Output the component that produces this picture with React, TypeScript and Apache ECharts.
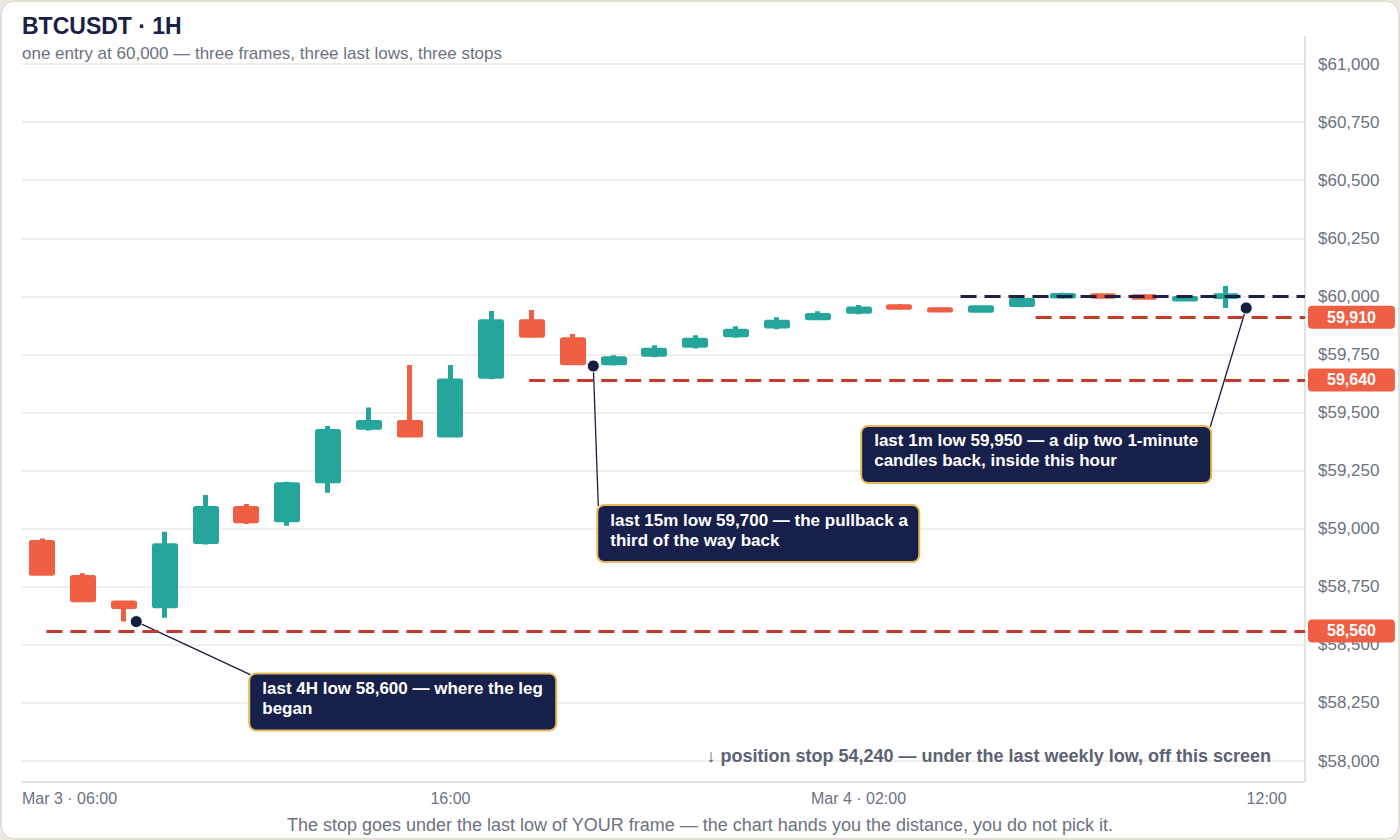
import React, { useEffect, useRef } from 'react';
import * as echarts from 'echarts';

// hourly candles, Mar 3 06:00 -> Mar 4 12:00 (last slot is the forming hour)
const hours = [
  'Mar 3 06:00', 'Mar 3 07:00', 'Mar 3 08:00', 'Mar 3 09:00', 'Mar 3 10:00', 'Mar 3 11:00',
  'Mar 3 12:00', 'Mar 3 13:00', 'Mar 3 14:00', 'Mar 3 15:00', 'Mar 3 16:00', 'Mar 3 17:00',
  'Mar 3 18:00', 'Mar 3 19:00', 'Mar 3 20:00', 'Mar 3 21:00', 'Mar 3 22:00', 'Mar 3 23:00',
  'Mar 4 00:00', 'Mar 4 01:00', 'Mar 4 02:00', 'Mar 4 03:00', 'Mar 4 04:00', 'Mar 4 05:00',
  'Mar 4 06:00', 'Mar 4 07:00', 'Mar 4 08:00', 'Mar 4 09:00', 'Mar 4 10:00', 'Mar 4 11:00',
  'Mar 4 12:00',
];

// [open, close, low, high]
const candles = [
  [58940, 58808, 58800, 58958],
  [58790, 58694, 58683, 58808],
  [58680, 58665, 58600, 58690],
  [58668, 58926, 58617, 58987],
  [58945, 59087, 58932, 59145],
  [59087, 59034, 59020, 59106],
  [59038, 59189, 59013, 59202],
  [59206, 59418, 59155, 59442],
  [59436, 59457, 59422, 59521],
  [59457, 59403, 59392, 59704],
  [59403, 59636, 59392, 59704],
  [59656, 59891, 59643, 59937],
  [59891, 59833, 59822, 59941],
  [59813, 59714, 59703, 59838],
  [59714, 59731, 59702, 59746],
  [59751, 59768, 59738, 59789],
  [59789, 59811, 59776, 59832],
  [59835, 59850, 59822, 59871],
  [59872, 59888, 59858, 59910],
  [59908, 59918, 59897, 59936],
  [59936, 59946, 59923, 59963],
  [59955, 59953, 59945, 59967],
  [59942, 59941, 59932, 59953],
  [59940, 59951, 59930, 59961],
  [59965, 59982, 59953, 59995],
  [60001, 60004, 59990, 60015],
  [60002, 60000, 59995, 60008],
  [59998, 59996, 59990, 60005],
  [59989, 59991, 59982, 59998],
  [59999, 60003, 59950, 60045],
];

const xTickValues = [-0.5, 10, 20, 30];
const xTickLabels = ['Mar 3 · 06:00', '16:00', 'Mar 4 · 02:00', '12:00'];

const priceMin = 58000;
const priceMax = 61000;
const priceStep = 250;

const entryPrice = 60000;
const entryFrom = 22.5;

const stopPrices = [58560, 59640, 59910];
const stopFrom = [0.1, 11.93, 24.34];

const lowX = [2.3, 13.5, 29.5];
const lowPrices = [58600, 59700, 59950];
const lowNotes = [
  'last 4H low 58,600 — where the leg\nbegan',
  'last 15m low 59,700 — the pullback a\nthird of the way back',
  'last 1m low 59,950 — a dip two 1-minute\ncandles back, inside this hour',
];

const offscreenNote = '↓ position stop 54,240 — under the last weekly low, off this screen';
const caption = 'The stop goes under the last low of YOUR frame — the chart hands you the distance, you do not pick it.';

// layout
const W = 1400;
const H = 840;
const PLOT_LEFT = 22;
const AXIS_X = 1305;
const CANDLE_RIGHT = 1287;
const PLOT_TOP = 64;
const PLOT_BOTTOM = 761;
const FRAME_TOP = 36;
const FRAME_BOTTOM = 782;
const notePad = [4, 12, 11, 12];
const noteWidth = [281, 296, 324];
const noteDx = [114, 5, -384];
const noteDy = [53, 140, 119];
const noteHookRight = [false, false, true];

const FONT = '"Liberation Sans", Arial, Helvetica, sans-serif';
const UP = '#26a69a';
const DOWN = '#ef5f43';
const STOP = '#c23b2b';
const NAVY = '#161d40';
const BOX = '#17204a';
const GOLD = '#e6b95a';
const MUTED = '#6b7280';
const GRIDLINE = '#ece9e2';
const AXIS = '#dedad2';

const fmtPrice = (v: number) => '$' + v.toLocaleString('en-US');

export default function App() {
  const ref = useRef<HTMLDivElement | null>(null);

  useEffect(() => {
    document.body.style.margin = '0';
    document.body.style.background = '#ece9e2';
    if (!ref.current) return;
    const chart = echarts.init(ref.current, null, { renderer: 'svg' });

    // value axis of the wide grid, scaled so that index i sits on candle slot i
    const xEnd = -0.5 + hours.length * (AXIS_X - PLOT_LEFT) / (CANDLE_RIGHT - PLOT_LEFT);
    const lineEnd = xEnd - 0.0001;

    const stopLines = stopPrices.map((p, i) => [
      {
        coord: [stopFrom[i], p],
        lineStyle: { color: STOP, width: 3, type: [16, 8] },
        label: {
          show: true,
          position: 'end',
          distance: 3,
          formatter: p.toLocaleString('en-US'),
          backgroundColor: DOWN,
          color: '#fff',
          fontFamily: FONT,
          fontWeight: 'bold',
          fontSize: 16,
          padding: [4, 19, 3, 19],
          borderRadius: 4,
        },
      },
      { coord: [lineEnd, p] },
    ]);

    const option: any = {
      animation: false,
      textStyle: { fontFamily: FONT },
      title: [
        {
          text: 'BTCUSDT · 1H',
          subtext: 'one entry at 60,000 — three frames, three last lows, three stops',
          left: PLOT_LEFT,
          top: 14,
          padding: 0,
          itemGap: 8,
          textStyle: { fontFamily: FONT, fontSize: 23, fontWeight: 'bold', color: '#1b2046', lineHeight: 23 },
          subtextStyle: { fontFamily: FONT, fontSize: 17, color: MUTED, lineHeight: 17 },
        },
        {
          text: offscreenNote,
          right: 129,
          top: 747,
          padding: 0,
          textStyle: { fontFamily: FONT, fontSize: 18, fontWeight: 'bold', color: '#5b6275' },
        },
        {
          text: caption,
          left: 'center',
          top: 816,
          padding: 0,
          textStyle: { fontFamily: FONT, fontSize: 18, fontWeight: 'normal', color: MUTED },
        },
      ],
      grid: [
        { left: PLOT_LEFT, right: W - AXIS_X, top: PLOT_TOP, bottom: H - PLOT_BOTTOM },
        { left: PLOT_LEFT, right: W - CANDLE_RIGHT, top: PLOT_TOP, bottom: H - PLOT_BOTTOM },
      ],
      xAxis: [
        {
          type: 'value',
          gridIndex: 0,
          min: -0.5,
          max: xEnd,
          offset: FRAME_BOTTOM - PLOT_BOTTOM,
          axisLine: { show: true, lineStyle: { color: AXIS, width: 1.5 } },
          axisTick: { show: false },
          splitLine: { show: false },
          axisLabel: {
            customValues: xTickValues,
            formatter: (v: number) => {
              const k = xTickValues.indexOf(v);
              return k >= 0 ? xTickLabels[k] : '';
            },
            alignMinLabel: 'left',
            color: MUTED,
            fontFamily: FONT,
            fontSize: 16,
            margin: 8,
          },
        },
        { type: 'category', gridIndex: 1, data: hours, boundaryGap: true, show: false },
      ],
      yAxis: [
        {
          type: 'value',
          gridIndex: 0,
          position: 'right',
          min: priceMin,
          max: priceMax,
          interval: priceStep,
          axisLine: { show: false },
          axisTick: { show: false },
          splitLine: { show: true, lineStyle: { color: GRIDLINE, width: 1.5 } },
          axisLabel: { color: MUTED, fontFamily: FONT, fontSize: 17, margin: 13, formatter: fmtPrice },
        },
        { type: 'value', gridIndex: 1, min: priceMin, max: priceMax, interval: priceStep, show: false },
      ],
      series: [
        {
          type: 'candlestick',
          xAxisIndex: 1,
          yAxisIndex: 1,
          data: candles,
          barWidth: 21.5,
          itemStyle: {
            color: UP,
            color0: DOWN,
            borderColor: UP,
            borderColor0: DOWN,
            borderWidth: 5,
            borderJoin: 'round',
          },
        },
        {
          type: 'scatter',
          xAxisIndex: 0,
          yAxisIndex: 0,
          z: 4,
          clip: false,
          symbolSize: 12,
          itemStyle: { color: NAVY, borderColor: '#ffffff', borderWidth: 1, opacity: 1 },
          data: lowX.map((x, i) => ({ value: [x, lowPrices[i]], label: { width: noteWidth[i] } })),
          label: {
            show: true,
            formatter: (p: any) => lowNotes[p.dataIndex],
            color: '#ffffff',
            fontFamily: FONT,
            fontSize: 17,
            fontWeight: 'bold',
            lineHeight: 20,
            align: 'left',
            backgroundColor: BOX,
            borderColor: GOLD,
            borderWidth: 2,
            borderRadius: 6,
            padding: notePad,
            opacity: 1,
          },
          labelLayout: (p: any) => {
            const i = p.dataIndex;
            const cx = p.rect.x + p.rect.width / 2;
            const cy = p.rect.y + p.rect.height / 2;
            return { x: cx + noteDx[i], y: cy + noteDy[i], align: 'left', verticalAlign: 'top' };
          },
          markLine: {
            silent: true,
            symbol: ['none', 'none'],
            data: [
              [
                {
                  coord: [entryFrom, entryPrice],
                  lineStyle: { color: '#1b2142', width: 3, type: [16, 8] },
                  label: { show: false },
                },
                { coord: [lineEnd, entryPrice] },
              ],
              ...stopLines,
            ],
          },
        },
      ],
    };

    chart.setOption(option);

    // leader lines from each low to the corner of its note, plus the right frame line
    const pts = lowX.map((x, i) => chart.convertToPixel({ xAxisIndex: 0, yAxisIndex: 0 }, [x, lowPrices[i]]) as number[]);
    chart.setOption({
      graphic: [
        {
          type: 'line',
          z: 0,
          shape: { x1: AXIS_X, y1: FRAME_TOP, x2: AXIS_X, y2: FRAME_BOTTOM },
          style: { stroke: AXIS, lineWidth: 1.5 },
        },
        ...pts.map((p, i) => {
          const boxW = noteWidth[i] + notePad[1] + notePad[3];
          const hx = p[0] + noteDx[i] + (noteHookRight[i] ? boxW : 0);
          return {
            type: 'line',
            z: 1,
            shape: { x1: p[0], y1: p[1], x2: hx, y2: p[1] + noteDy[i] },
            style: { stroke: NAVY, lineWidth: 1.3 },
          };
        }),
      ],
    });

    return () => chart.dispose();
  }, []);

  return (
    <div style={{ position: 'relative', width: W, height: H, background: '#ffffff', borderRadius: 14, overflow: 'hidden' }}>
      <div ref={ref} style={{ position: 'absolute', left: 0, top: 0, width: W, height: H }} />
      <div
        style={{
          position: 'absolute',
          left: 0,
          top: 0,
          width: W,
          height: H,
          boxSizing: 'border-box',
          border: '2px solid #e2ded4',
          borderRadius: 14,
          pointerEvents: 'none',
        }}
      />
    </div>
  );
}
